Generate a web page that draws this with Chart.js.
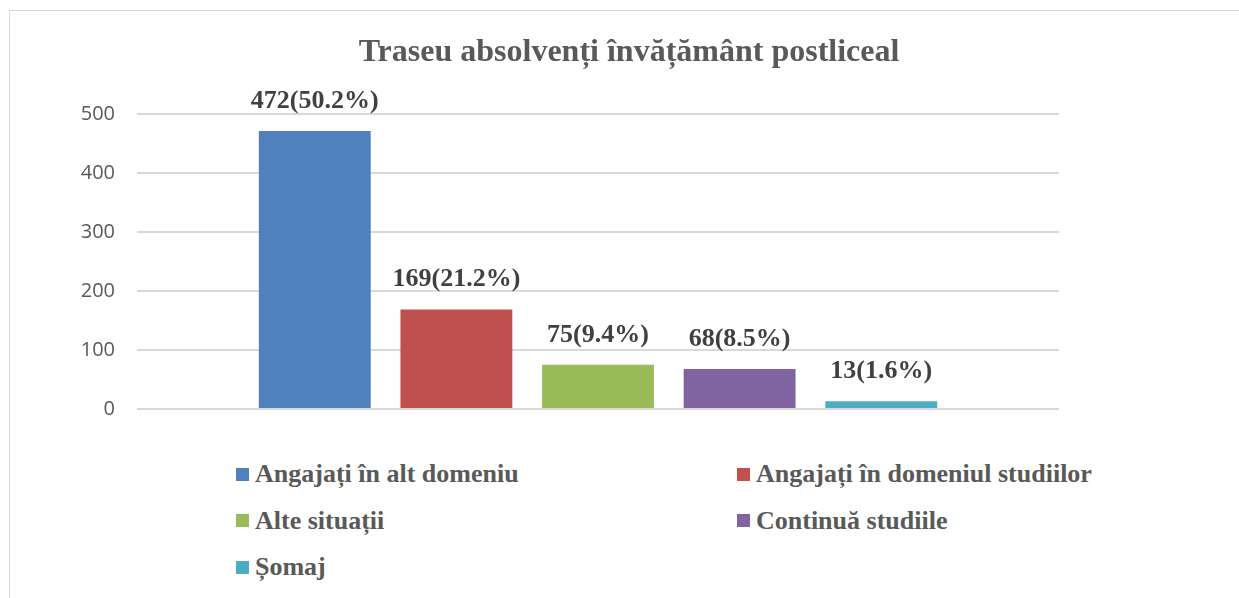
<!DOCTYPE html>
<html>
<head>
<meta charset="utf-8">
<script src="https://cdn.jsdelivr.net/npm/chart.js@4"></script>
<style>
  html, body { margin: 0; padding: 0; background: #fff; overflow: hidden; width: 1239px; height: 598px; }
  #frame { position: absolute; left: 9px; top: 10px; width: 1260px; height: 700px; border-left: 1px solid #d9d9d9; border-top: 1px solid #d9d9d9; }
  #wrap { position: absolute; left: 10px; top: 10px; width: 1238px; height: 433px; }
  #legend { position: absolute; left: 236px; top: 451px; width: 900px; display: grid; grid-template-columns: 501px 400px; row-gap: 0; font: bold 26px "Liberation Serif", "Times New Roman", serif; color: #595959; }
  #legend div { height: 46.5px; display: flex; align-items: center; white-space: nowrap; }
  #legend span { display: inline-block; width: 13px; height: 13px; margin-right: 6px; }
</style>
</head>
<body>
<div id="frame"></div>
<div id="wrap"><canvas id="chart"></canvas></div>
<div id="legend"></div>
<script>
const categories = ['Angajați în alt domeniu', 'Angajați în domeniul studiilor', 'Alte situații', 'Continuă studiile', 'Șomaj'];
const counts = [472, 169, 75, 68, 13];
const shares = ['50.2%', '21.2%', '9.4%', '8.5%', '1.6%'];
const colors = ['#4f81bd', '#c0504d', '#9bbb59', '#8064a2', '#4bacc6'];
const yTicks = [0, 100, 200, 300, 400, 500];

const serif = '"Liberation Serif", "Times New Roman", serif';

const valueLabels = {
  id: 'valueLabels',
  afterDatasetsDraw(chart) {
    const ctx = chart.ctx;
    ctx.save();
    ctx.font = 'bold 26px ' + serif;
    ctx.fillStyle = '#404040';
    ctx.textAlign = 'center';
    ctx.textBaseline = 'middle';
    chart.data.datasets.forEach((ds, i) => {
      const bar = chart.getDatasetMeta(i).data[0];
      ctx.fillText(counts[i] + '(' + shares[i] + ')', bar.x, bar.y - 30);
    });
    ctx.restore();
  }
};

const canvas = document.getElementById('chart');
new Chart(canvas, {
  type: 'bar',
  data: {
    labels: [''],
    datasets: categories.map((name, i) => ({
      label: name,
      data: [counts[i]],
      backgroundColor: colors[i],
      categoryPercentage: 0.768,
      barPercentage: 0.79
    }))
  },
  options: {
    responsive: true,
    maintainAspectRatio: false,
    animation: false,
    layout: { padding: { bottom: 10 } },
    plugins: {
      legend: { display: false },
      tooltip: { enabled: false },
      title: {
        display: true,
        text: 'Traseu absolvenți învățământ postliceal',
        color: '#595959',
        font: { family: serif, size: 32, weight: 'bold' },
        padding: { top: 24, bottom: 42 }
      }
    },
    scales: {
      x: { display: false },
      y: {
        min: 0,
        max: 500,
        afterBuildTicks: s => { s.ticks = yTicks.map(v => ({ value: v })); },
        afterFit: s => { s.width = 127; },
        border: { display: false },
        grid: { color: '#d9d9d9', lineWidth: 2, drawTicks: false },
        ticks: { padding: 22, color: '#595959', font: { family: 'Open Sans', size: 20 } }
      },
      y2: {
        position: 'right',
        display: true,
        afterFit: s => { s.width = 189; },
        border: { display: false },
        grid: { display: false },
        ticks: { display: false }
      }
    }
  },
  plugins: [valueLabels]
});

const legend = document.getElementById('legend');
categories.forEach((name, i) => {
  const item = document.createElement('div');
  const box = document.createElement('span');
  box.style.background = colors[i];
  item.appendChild(box);
  item.appendChild(document.createTextNode(name));
  legend.appendChild(item);
});
</script>
</body>
</html>
